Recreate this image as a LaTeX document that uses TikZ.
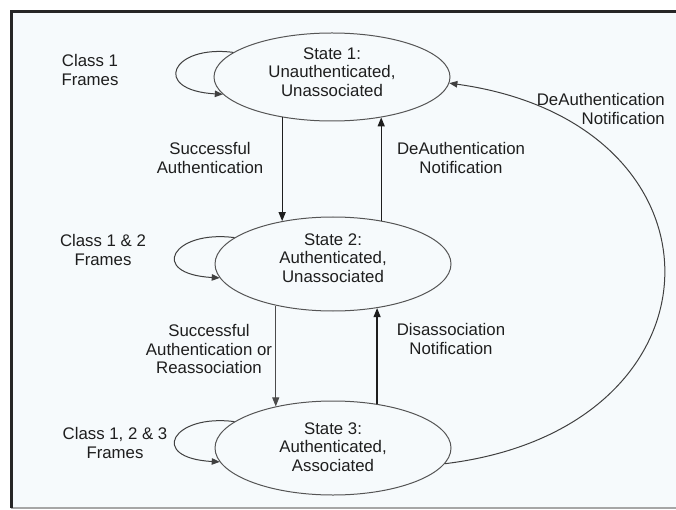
\documentclass[tikz,border=0pt]{standalone}
\usepackage{fontspec}
\setmainfont{Liberation Sans}
\usetikzlibrary{arrows.meta,shapes.geometric,calc}
\definecolor{panel}{RGB}{246,250,252}
\definecolor{ink}{RGB}{30,30,30}
\definecolor{rim}{RGB}{85,85,85}
\begin{document}
\begin{tikzpicture}[x=1pt,y=-1pt,
  state/.style={draw=rim, line width=1pt, ellipse, minimum width=236pt, inner sep=0pt},
  lbl/.style={font=\fontsize{16.8}{18.5}\selectfont, text=ink, align=center, inner sep=0pt},
  arr/.style={draw=ink, line width=1.2pt, -{Triangle[length=9pt,width=7pt]}},
  thinarr/.style={draw=ink!80, line width=0.8pt, -{Triangle[length=9pt,width=7pt]}},
  loop/.style={draw=ink!85, line width=1pt, -{Triangle[length=8pt,width=6.5pt]}},
]
\useasboundingbox (0,0) rectangle (676,510);

% panel and its frame
\fill[panel] (11,12) rectangle (676,508);
\draw[line width=1.2pt, black!35] (11,508) -- (676,508);
\draw[line width=3pt, black!85] (11,508) -- (11,12) -- (676,12);

% states
\node[state, minimum height=88pt] (s1) at (332,77) {};
\node[state, minimum height=94pt] (s2) at (333,264) {};
\node[state, minimum height=94pt] (s3) at (333,448) {};
\node[lbl] (t1) at (332,72) {State 1:\\Unauthenticated,\\Unassociated};
\node[lbl] (t2) at (333,258) {State 2:\\Authenticated,\\Unassociated};
\node[lbl] (t3) at (333,447) {State 3:\\Authenticated,\\Associated};

% self loops
\draw[loop] (s1.166) .. controls +(-62,-8) and +(-72,-4) .. (s1.189);
\draw[loop] (s2.165) .. controls +(-62,-8) and +(-72,-4) .. (s2.187);
\draw[loop] (s3.165) .. controls +(-62,-8) and +(-72,-4) .. (s3.187);

% transitions between states
\draw[arr] (s1.219) -- (s1.219 |- s2.140);
\draw[arr] (s2.42) -- (s2.42 |- s1.321);
\draw[thinarr] (s2.216) -- (s2.216 |- s3.144);
\draw[arr] (s3.45) -- (s3.45 |- s2.315);
\draw[loop] (s3.352) .. controls +(289,-35) and +(289,40) .. (s1.357);

% labels
\node[lbl] (c1) at (90,70) {Class 1\\Frames};
\node[lbl] (c2) at (103,250) {Class 1 \& 2\\Frames};
\node[lbl] (c3) at (115,443) {Class 1, 2 \& 3\\Frames};
\node[lbl] (a12) at (210,158) {Successful\\Authentication};
\node[lbl] (d21) at (461,158) {DeAuthentication\\Notification};
\node[lbl] (a23) at (209,349) {Successful\\Authentication or\\Reassociation};
\node[lbl] (d32) at (451,339) {Disassociation\\Notification};
\node[lbl, align=right, anchor=east] (d31) at (665,109) {DeAuthentication\\Notification};
\end{tikzpicture}
\end{document}
